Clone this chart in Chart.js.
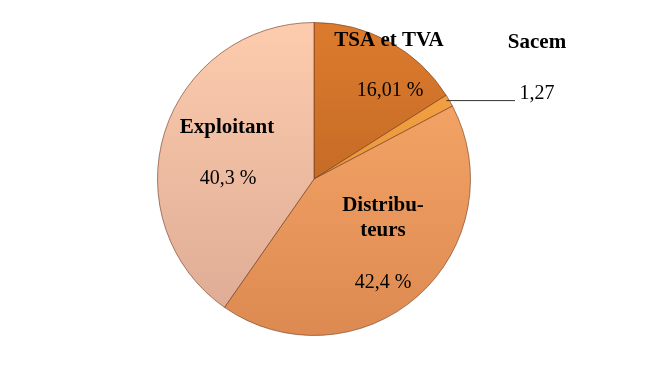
<!DOCTYPE html>
<html>
	<head>
		<title>Répartition</title>
		<script src="https://cdn.jsdelivr.net/npm/chart.js@4.4.1/dist/chart.umd.min.js"></script>
		<style>
			body { margin: 0; background: #fff; }
			.chart-container { width: 650px; height: 382px; }
		</style>
	</head>
	<body>
		<div class="chart-container">
			<canvas id="pieChart"></canvas>
		</div>
		<script>
			// Data
			const categories = ["TSA et TVA", "Sacem", "Distributeurs", "Exploitant"];
			const shares = [16.01, 1.27, 42.4, 40.3];
			const valueLabels = ["16,01 %", "1,27", "42,4 %", "40,3 %"];
			const nameLines = [["TSA et TVA"], ["Sacem"], ["Distribu-", "teurs"], ["Exploitant"]];

			// top / bottom colour of each slice gradient
			const topColors = ["#dc7b2d", "#f7a645", "#fbab6b", "#fdcbad"];
			const bottomColors = ["#b05c20", "#e08a35", "#dd8a52", "#dcaa93"];

			// label positions, offsets from pie center (name, value)
			const labelPos = [
				{ name: [75, -138], value: [76, -88] },
				{ name: [223, -136], value: [223, -85], leader: 201 },
				{ name: [69, 27], value: [69, 104] },
				{ name: [-87, -51], value: [-86, 0] },
			];

			function sliceGradient(context) {
				const chart = context.chart;
				const area = chart.chartArea;
				if (!area) return topColors[context.dataIndex];
				const g = chart.ctx.createLinearGradient(0, area.top, 0, area.bottom);
				g.addColorStop(0, topColors[context.dataIndex]);
				g.addColorStop(1, bottomColors[context.dataIndex]);
				return g;
			}

			const labelPlugin = {
				id: "sliceLabels",
				afterDatasetsDraw(chart) {
					const ctx = chart.ctx;
					const arcs = chart.getDatasetMeta(0).data;
					const cx = arcs[0].x, cy = arcs[0].y;
					ctx.save();
					ctx.fillStyle = "#000";
					ctx.textAlign = "center";
					ctx.textBaseline = "middle";
					arcs.forEach((arc, i) => {
						const p = labelPos[i];
						ctx.font = "bold 21px 'Liberation Serif'";
						nameLines[i].forEach((line, k) => {
							ctx.fillText(line, cx + p.name[0], cy + p.name[1] + k * 25);
						});
						ctx.font = "20px 'Liberation Serif'";
						ctx.fillText(valueLabels[i], cx + p.value[0], cy + p.value[1]);
						if (p.leader) {
							const mid = (arc.startAngle + arc.endAngle) / 2;
							const x0 = cx + Math.cos(mid) * arc.outerRadius;
							const y0 = cy + Math.sin(mid) * arc.outerRadius;
							ctx.strokeStyle = "#333";
							ctx.lineWidth = 1;
							ctx.beginPath();
							ctx.moveTo(x0 - 3, y0);
							ctx.lineTo(cx + p.leader, y0);
							ctx.stroke();
						}
					});
					ctx.restore();
				},
			};

			new Chart(document.getElementById("pieChart"), {
				type: "pie",
				data: {
					labels: categories,
					datasets: [
						{
							data: shares,
							backgroundColor: sliceGradient,
							borderColor: "rgba(110, 55, 25, 0.6)",
							borderWidth: 1,
						},
					],
				},
				options: {
					responsive: true,
					maintainAspectRatio: false,
					animation: false,
					layout: { padding: { left: 157, right: 179, top: 22, bottom: 46 } },
					plugins: {
						legend: { display: false },
						tooltip: { enabled: false },
					},
				},
				plugins: [labelPlugin],
			});
		</script>
	</body>
</html>
